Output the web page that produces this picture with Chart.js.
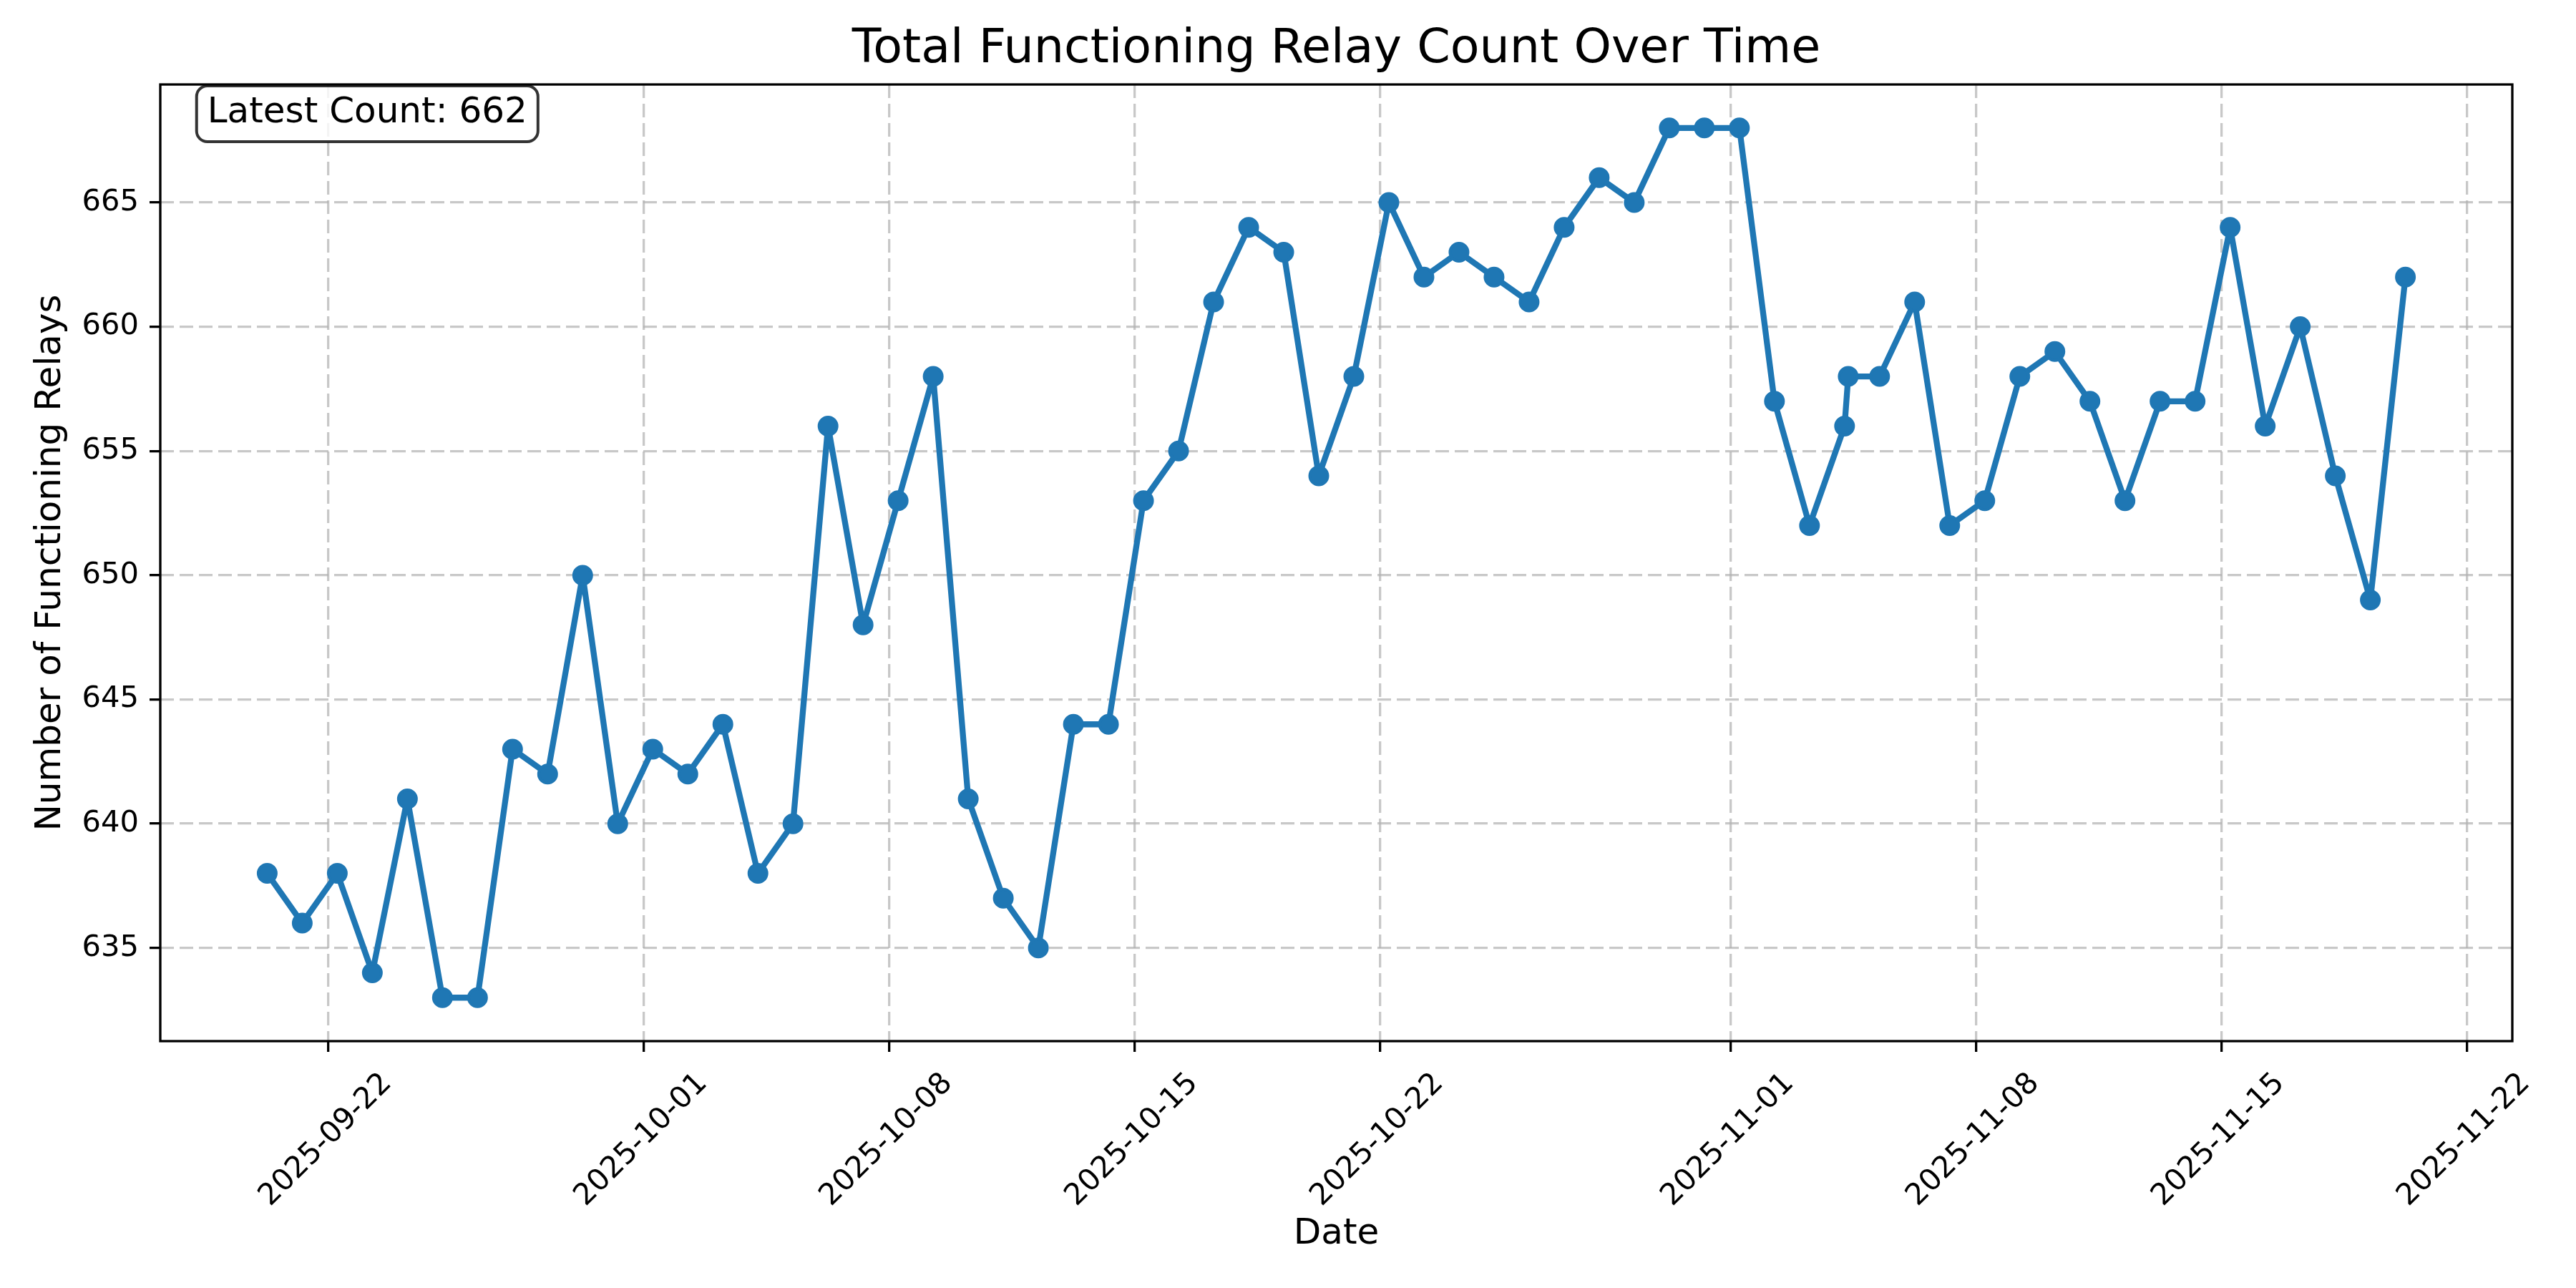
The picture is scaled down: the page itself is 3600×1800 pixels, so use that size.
<!DOCTYPE html>
<html lang="en">
<head>
    <meta charset="UTF-8" />
    <title>Total Functioning Relay Count Over Time</title>
    <script src="https://cdn.jsdelivr.net/npm/chart.js"></script>
    <style>
        body { margin: 0; background: #fff; }
        canvas { display: block; }
    </style>
</head>
<body>
    <canvas id="relayChart" width="3600" height="1800"></canvas>

    <script>
        // one reading per day around 06:00 UTC, plus an extra run on 11-04
        const times = [
            '2025-09-20 06:00', '2025-09-21 06:00', '2025-09-22 06:00', '2025-09-23 06:00',
            '2025-09-24 06:00', '2025-09-25 06:00', '2025-09-26 06:00', '2025-09-27 06:00',
            '2025-09-28 06:00', '2025-09-29 06:00', '2025-09-30 06:00', '2025-10-01 06:00',
            '2025-10-02 06:00', '2025-10-03 06:00', '2025-10-04 06:00', '2025-10-05 06:00',
            '2025-10-06 06:00', '2025-10-07 06:00', '2025-10-08 06:00', '2025-10-09 06:00',
            '2025-10-10 06:00', '2025-10-11 06:00', '2025-10-12 06:00', '2025-10-13 06:00',
            '2025-10-14 06:00', '2025-10-15 06:00', '2025-10-16 06:00', '2025-10-17 06:00',
            '2025-10-18 06:00', '2025-10-19 06:00', '2025-10-20 06:00', '2025-10-21 06:00',
            '2025-10-22 06:00', '2025-10-23 06:00', '2025-10-24 06:00', '2025-10-25 06:00',
            '2025-10-26 06:00', '2025-10-27 06:00', '2025-10-28 06:00', '2025-10-29 06:00',
            '2025-10-30 06:00', '2025-10-31 06:00', '2025-11-01 06:00', '2025-11-02 06:00',
            '2025-11-03 06:00', '2025-11-04 06:00', '2025-11-04 08:30', '2025-11-05 06:00',
            '2025-11-06 06:00', '2025-11-07 06:00', '2025-11-08 06:00', '2025-11-09 06:00',
            '2025-11-10 06:00', '2025-11-11 06:00', '2025-11-12 06:00', '2025-11-13 06:00',
            '2025-11-14 06:00', '2025-11-15 06:00', '2025-11-16 06:00', '2025-11-17 06:00',
            '2025-11-18 06:00', '2025-11-19 06:00', '2025-11-20 06:00'
        ];

        const counts = [
            638, 636, 638, 634, 641, 633, 633, 643,
            642, 650, 640, 643, 642, 644, 638, 640,
            656, 648, 653, 658, 641, 637, 635, 644,
            644, 653, 655, 661, 664, 663, 654, 658,
            665, 662, 663, 662, 661, 664, 666, 665,
            668, 668, 668, 657, 652, 656, 658, 658,
            661, 652, 653, 658, 659, 657, 653, 657,
            657, 664, 656, 660, 654, 649, 662
        ];

        const xTickLabels = [
            '2025-09-22', '2025-10-01', '2025-10-08', '2025-10-15', '2025-10-22',
            '2025-11-01', '2025-11-08', '2025-11-15', '2025-11-22'
        ];

        const yTicks = [635, 640, 645, 650, 655, 660, 665];

        const toMs = (s) => Date.parse(s.replace(' ', 'T') + (s.length > 10 ? ':00Z' : 'T00:00:00Z'));

        const points = times.map((t, i) => ({ x: toMs(t), y: counts[i] }));

        // 5% margins like matplotlib
        const xs = points.map(p => p.x);
        const xMinData = Math.min(...xs), xMaxData = Math.max(...xs);
        const xPad = (xMaxData - xMinData) * 0.05;
        const yMinData = Math.min(...counts), yMaxData = Math.max(...counts);
        const yPad = (yMaxData - yMinData) * 0.05;

        const FONT = '"DejaVu Sans", sans-serif';
        Chart.defaults.color = '#000';
        Chart.defaults.font.family = FONT;

        const framePlugin = {
            id: 'frame',
            afterDatasetsDraw(chart) {
                const { ctx, chartArea: a } = chart;
                ctx.save();
                ctx.strokeStyle = '#000';
                ctx.lineWidth = 3.3;
                ctx.strokeRect(a.left, a.top, a.right - a.left, a.bottom - a.top);

                // "Latest Count" box in the top-left corner of the axes
                const text = 'Latest Count: ' + counts[counts.length - 1];
                ctx.font = '50px ' + FONT;
                const tw = ctx.measureText(text).width;
                const tx = a.left + 0.02 * (a.right - a.left);
                const bx = tx - 15, by = a.top + 2, bw = tw + 30, bh = 78;
                ctx.beginPath();
                ctx.roundRect(bx, by, bw, bh, 15);
                ctx.fillStyle = 'rgba(255,255,255,0.8)';
                ctx.fill();
                ctx.lineWidth = 4;
                ctx.strokeStyle = 'rgba(0,0,0,0.8)';
                ctx.stroke();
                ctx.fillStyle = '#000';
                ctx.textBaseline = 'alphabetic';
                ctx.textAlign = 'left';
                ctx.fillText(text, tx, by + 51);
                ctx.restore();
            }
        };

        const gridOpts = {
            color: 'rgba(176,176,176,0.7)',
            lineWidth: 3.3,
            tickColor: '#000',
            tickWidth: 3.3,
            tickLength: 15
        };

        new Chart(document.getElementById('relayChart'), {
            type: 'line',
            data: {
                datasets: [{
                    data: points,
                    borderColor: '#1f77b4',
                    backgroundColor: '#1f77b4',
                    borderWidth: 8.3,
                    borderJoinStyle: 'round',
                    borderCapStyle: 'round',
                    pointRadius: 12.5,
                    pointBorderWidth: 4,
                    pointBackgroundColor: '#1f77b4',
                    pointBorderColor: '#1f77b4',
                    tension: 0,
                    fill: false
                }]
            },
            options: {
                responsive: false,
                animation: false,
                devicePixelRatio: 1,
                layout: { padding: { left: 0, right: 89, top: 0, bottom: 0 } },
                plugins: {
                    legend: { display: false },
                    tooltip: { enabled: false },
                    title: {
                        display: true,
                        fullSize: false,
                        text: 'Total Functioning Relay Count Over Time',
                        color: '#000',
                        font: { size: 66.7, weight: 'normal', family: FONT },
                        padding: { top: 30, bottom: 8 }
                    }
                },
                scales: {
                    x: {
                        type: 'linear',
                        bounds: 'data',
                        min: xMinData - xPad,
                        max: xMaxData + xPad,
                        afterBuildTicks: (scale) => {
                            scale.ticks = xTickLabels.map(l => ({ value: toMs(l) }));
                        },
                        afterFit: (scale) => { scale.height = 345; },
                        grid: gridOpts,
                        border: { display: false, dash: [19, 8] },
                        ticks: {
                            autoSkip: false,
                            minRotation: 45,
                            maxRotation: 45,
                            padding: 20,
                            labelOffset: 82,
                            font: { size: 41.7 },
                            callback: (v) => new Date(v).toISOString().slice(0, 10)
                        },
                        title: {
                            display: true,
                            text: 'Date',
                            font: { size: 50 },
                            padding: { top: 0, bottom: 45 }
                        }
                    },
                    y: {
                        type: 'linear',
                        bounds: 'data',
                        min: yMinData - yPad,
                        max: yMaxData + yPad,
                        afterBuildTicks: (scale) => {
                            scale.ticks = yTicks.map(v => ({ value: v }));
                        },
                        afterFit: (scale) => { scale.width = 224; },
                        grid: gridOpts,
                        border: { display: false, dash: [19, 8] },
                        ticks: {
                            padding: 15,
                            font: { size: 41.7 }
                        },
                        title: {
                            display: true,
                            text: 'Number of Functioning Relays',
                            font: { size: 50 },
                            padding: { top: 41, bottom: 0 }
                        }
                    }
                }
            },
            plugins: [framePlugin]
        });
    </script>
</body>
</html>
